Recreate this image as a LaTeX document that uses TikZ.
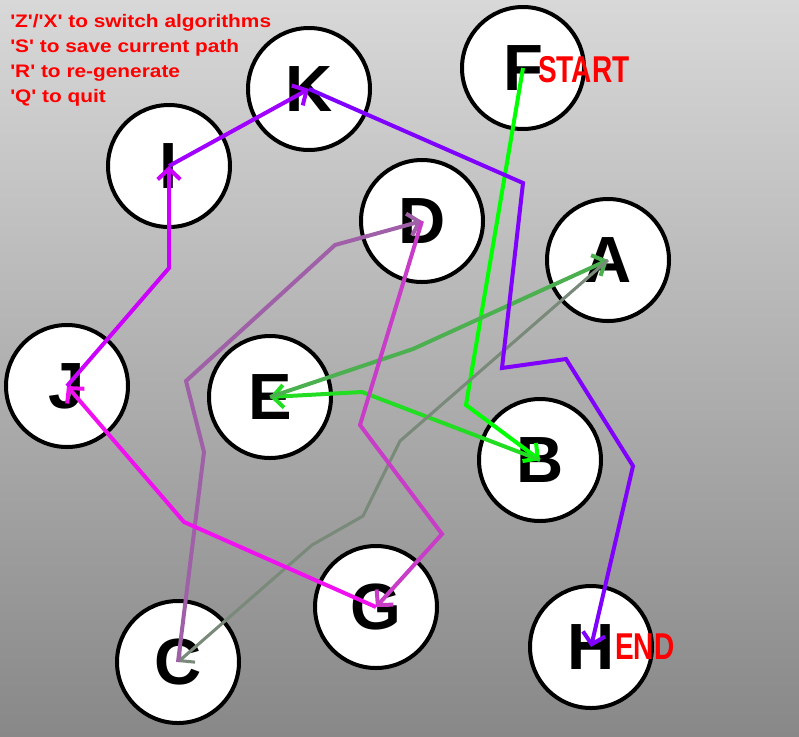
\documentclass[tikz,border=0pt]{standalone}
\usepackage{fontspec}
\setmainfont{Liberation Sans}
\newfontfamily\letraNodo{Liberation Sans}[UprightFont={* Bold}]
\newfontfamily\letraAyuda{Liberation Sans}[UprightFont={* Bold}, FakeStretch=1.15]
\newfontfamily\letraEtiqueta{Liberation Sans}[UprightFont={* Bold}, FakeStretch=0.75]
\usetikzlibrary{arrows.meta}
\definecolor{fondoclaro}{HTML}{D8D8D8}
\definecolor{fondooscuro}{HTML}{888888}
\definecolor{rojoaviso}{HTML}{FF0000}
\definecolor{verdevivo}{HTML}{00FF00}
\definecolor{verdeclaro}{HTML}{22DD22}
\definecolor{verdemedio}{HTML}{4CAF50}
\definecolor{grisverde}{HTML}{7A8A7A}
\definecolor{malva}{HTML}{A060A8}
\definecolor{orquidea}{HTML}{C83CC8}
\definecolor{fucsia}{HTML}{F010F0}
\definecolor{purpura}{HTML}{CC00FF}
\definecolor{violeta}{HTML}{A000FF}
\definecolor{indigo}{HTML}{8000FF}
\tikzset{
  nodoGrafo/.style={
    circle, draw=black, line width=3pt, fill=white,
    minimum size=91.5pt, inner sep=0pt,
    font=\letraNodo\fontsize{49}{49}\selectfont
  },
  flechaRuta/.style={line width=3pt, -{Straight Barb[length=8pt,width=17pt]}},
  flechaFina/.style={flechaRuta, line width=2.3pt},
  textoAyuda/.style={anchor=base west, inner sep=0pt, text=rojoaviso,
    font=\letraAyuda\fontsize{13.6}{13.6}\selectfont},
  etiquetaRuta/.style={anchor=base west, inner sep=0pt, text=rojoaviso,
    font=\letraEtiqueta\fontsize{28}{28}\selectfont},
}
\begin{document}
\begin{tikzpicture}[x=0.75pt, y=-0.75pt]
    \useasboundingbox (0,0) rectangle (799,736);
    \shade[top color=fondoclaro, bottom color=fondooscuro] (0,0) rectangle (799,736);
    % nodos del grafo
    \node[nodoGrafo] (F) at (523,68) {F};
    \node[nodoGrafo] (K) at (309,89) {K};
    \node[nodoGrafo] (I) at (169,166) {I};
    \node[nodoGrafo] (D) at (422,221) {D};
    \node[nodoGrafo] (A) at (608,260) {A};
    \node[nodoGrafo] (J) at (67,386) {J};
    \node[nodoGrafo] (E) at (270,397) {E};
    \node[nodoGrafo] (B) at (540,460) {B};
    \node[nodoGrafo] (G) at (376,607) {G};
    \node[nodoGrafo] (C) at (178,662) {C};
    \node[nodoGrafo] (H) at (591,647) {H};
    % ruta
    \draw[flechaRuta, verdevivo] (F.center) -- (466,405) -- (B.center);
    \draw[flechaRuta, verdeclaro] (B.center) -- (362,392) -- (E.center);
    \draw[flechaRuta, verdemedio] (E.center) -- (413,349) -- (A.center);
    \draw[flechaFina, grisverde] (A.center) -- (400,441) -- (363,516) -- (312,545) -- (C.center);
    \draw[flechaRuta, malva] (C.center) -- (204,452) -- (186,381) -- (335,245) -- (D.center);
    \draw[flechaRuta, orquidea] (D.center) -- (360,425) -- (442,534) -- (G.center);
    \draw[flechaRuta, fucsia] (G.center) -- (184,522) -- (J.center);
    \draw[flechaRuta, purpura] (J.center) -- (169,268) -- (I.center);
    \draw[flechaRuta, violeta] (I.center) -- (K.center);
    \draw[flechaRuta, indigo] (K.center) -- (523,183) -- (502,368) -- (566,359) -- (633,466) -- (H.center);
    % textos
    \node[etiquetaRuta] (inicio) at (538,82) {START};
    \node[etiquetaRuta] (fin) at (615,659) {END};
    \foreach \texto [count=\n] in {{'Z'/'X' to switch algorithms}, {'S' to save current path},
        {'R' to re-generate}, {'Q' to quit}}
      \node[textoAyuda] (ayuda\n) at (10,2+25*\n) {\texto};
\end{tikzpicture}
\end{document}
